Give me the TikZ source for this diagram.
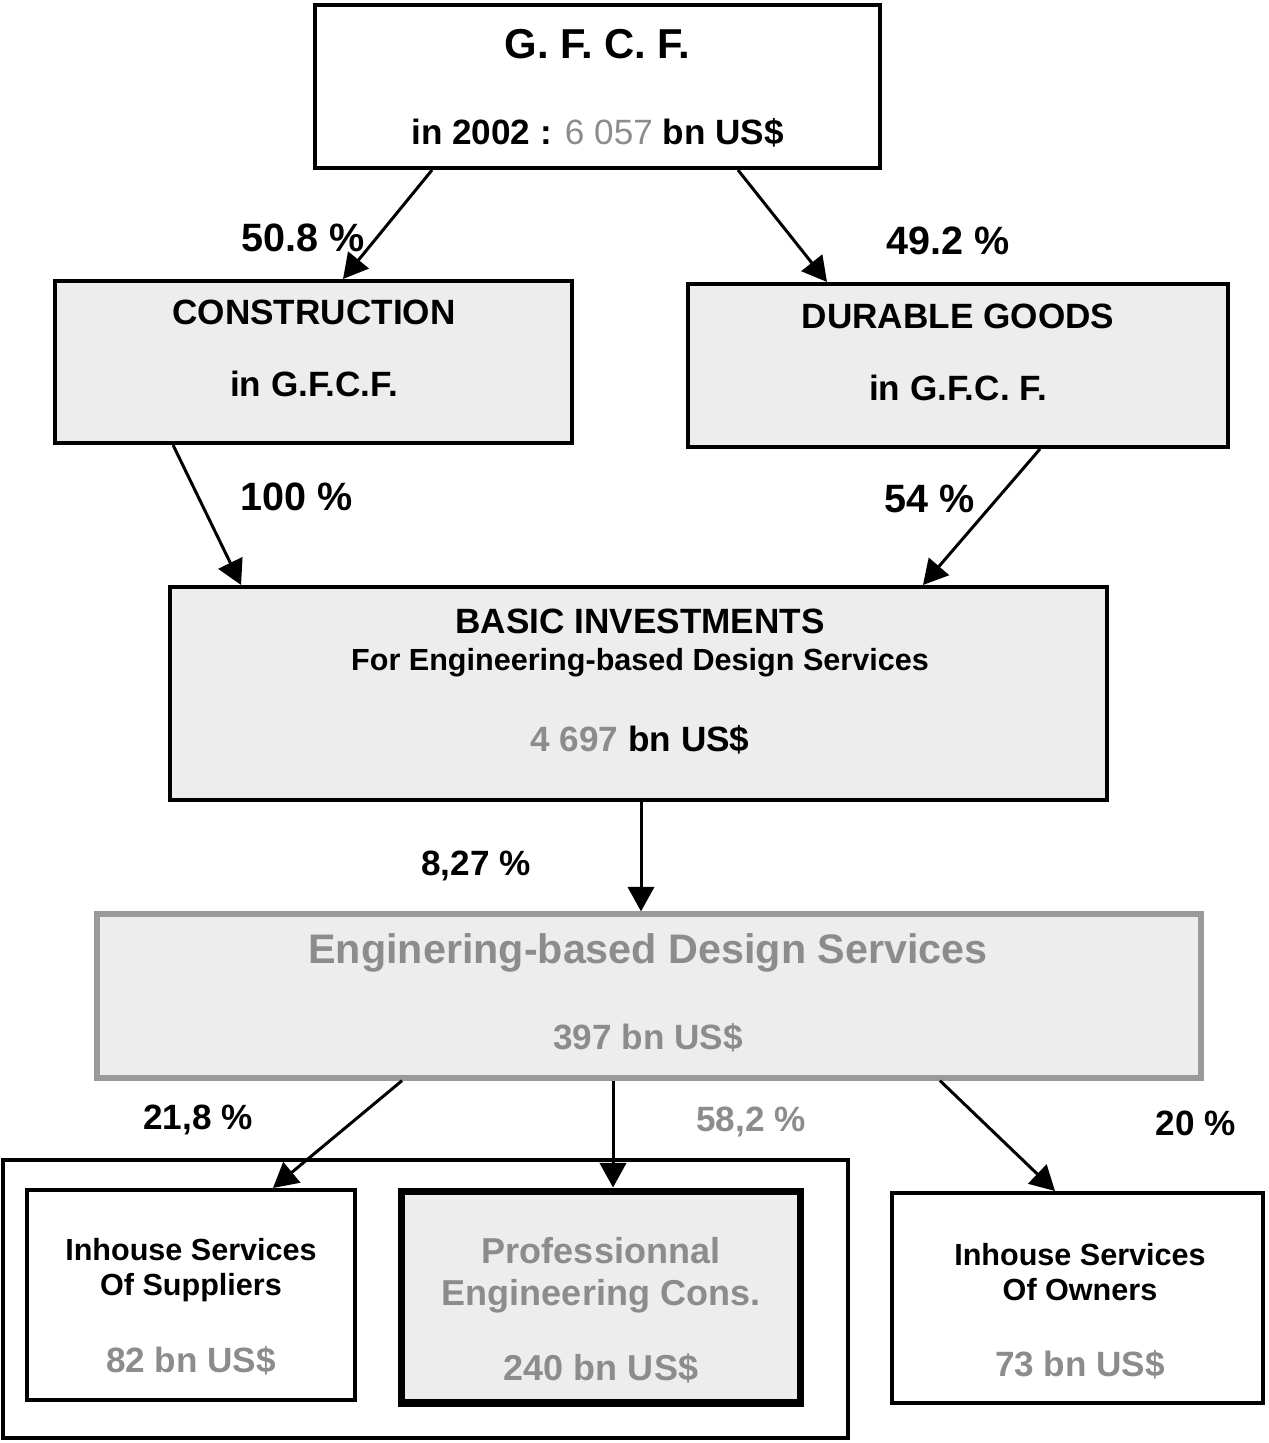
\documentclass[tikz,border=0pt]{standalone}
\usepackage{fontspec}
\setmainfont{Liberation Sans}
\usetikzlibrary{arrows.meta}

\definecolor{boxgray}{HTML}{EDEDED}
\definecolor{txtgray}{HTML}{8C8C8C}
\definecolor{edgegray}{HTML}{9A9A9A}
\newcommand{\midsize}{\fontsize{17.4}{20}\selectfont}

\begin{document}
\begin{tikzpicture}[x=0.02cm, y=-0.02cm]
    \useasboundingbox (0,0) rectangle (1268,1443);

    \begin{scope}[every node/.style={rectangle,draw,line width=2.3pt}]
        \node[minimum width=11.3cm, minimum height=3.26cm] (gfcf) at (597.5,86.5) {};
        \node[fill=boxgray, minimum width=10.34cm, minimum height=3.24cm] (cons) at (313.5,362) {};
        \node[fill=boxgray, minimum width=10.8cm, minimum height=3.26cm] (dur) at (958,365.5) {};
        \node[fill=boxgray, minimum width=18.74cm, minimum height=4.26cm] (basic) at (638.5,693.5) {};
        \node[fill=boxgray, draw=edgegray, line width=3pt, minimum width=22.08cm, minimum height=3.28cm] (eds) at (649,996) {};
        \node[minimum width=16.9cm, minimum height=5.56cm] (group) at (425.5,1299) {};
        \node[minimum width=6.56cm, minimum height=4.2cm] (sup) at (191,1295) {};
        \node[fill=boxgray, line width=4pt, minimum width=8cm, minimum height=4.24cm] (prof) at (601,1297) {};
        \node[minimum width=7.42cm, minimum height=4.2cm] (own) at (1077.5,1298) {};
    \end{scope}

    \begin{scope}[every node/.style={anchor=north,inner sep=0pt,align=center,
                  font=\fontsize{20}{20}\selectfont\bfseries}]
        \node (gfcf-t) at (597.5,29) {{\fontsize{23.8}{20}\selectfont G. F. C. F.}\\[29pt]
            in 2002 : {\mdseries\color{txtgray}6 057} bn US\$};
        \node (cons-t) at (314,300) {CONSTRUCTION\\[21pt]in G.F.C.F.};
        \node (dur-t) at (958,304) {DURABLE GOODS\\[21pt]in G.F.C. F.};
        \node (basic-t) at (640,609) {BASIC INVESTMENTS\\[1pt]
            {\midsize For Engineering-based Design Services}\\[26pt]
            {\color{txtgray}4 697} bn US\$};
        \node[text=txtgray] (eds-t) at (648,933) {{\fontsize{23.5}{20}\selectfont Enginering-based Design Services}\\[29pt]
            397 bn US\$};
        \node (sup-t) at (191,1238) {{\midsize Inhouse Services}\\{\midsize Of Suppliers}\\[24pt]
            {\color{txtgray}82 bn US\$}};
        \node[text=txtgray, font=\fontsize{20.5}{20}\selectfont\bfseries] (prof-t) at (601,1237) {Professionnal\\[4pt]
            Engineering Cons.\\[22.5pt]240 bn US\$};
        \node (own-t) at (1080,1243) {{\midsize Inhouse Services}\\{\midsize Of Owners}\\[23pt]
            {\color{txtgray}73 bn US\$}};
    \end{scope}

    \begin{scope}[every node/.style={anchor=base,inner sep=0pt,
                  font=\fontsize{22.5}{24}\selectfont\bfseries}]
        \node (lab-cons) at (303,251) {50.8 \%};
        \node (lab-dur) at (948,254) {49.2 \%};
        \node (lab-cb) at (297,510) {100 \%};
        \node (lab-db) at (930,512) {54 \%};
        \node[font=\fontsize{20}{24}\selectfont\bfseries] (lab-be) at (476,875) {8,27 \%};
        \node[font=\fontsize{20}{24}\selectfont\bfseries] (lab-sup) at (198,1129) {21,8 \%};
        \node[font=\fontsize{20}{24}\selectfont\bfseries, text=txtgray] (lab-prof) at (751,1131) {58,2 \%};
        \node[font=\fontsize{20}{24}\selectfont\bfseries] (lab-own) at (1196,1135) {20 \%};
    \end{scope}

    \begin{scope}[>={Triangle[length=14pt,width=15pt]},
                  every edge/.style={draw=black,line width=1.7pt}]
        \path [->] ([xshift=-3.31cm]gfcf.south) edge ([xshift=0.59cm]cons.north);
        \path [->] ([xshift=2.81cm]gfcf.south) edge ([xshift=-2.62cm]dur.north);
        \path [->] ([xshift=-2.81cm]cons.south) edge ([xshift=-7.95cm]basic.north);
        \path [->] ([xshift=1.64cm]dur.south) edge ([xshift=5.69cm]basic.north);
        \path [->] ([xshift=0.05cm]basic.south) edge ([xshift=0.05cm]basic.south |- eds.north);
        \path [->] ([xshift=-4.94cm]eds.south) edge ([xshift=1.64cm]sup.north);
        \path [->] ([xshift=-0.72cm]eds.south) edge ([xshift=-0.72cm]eds.south |- prof.north);
        \path [->] ([xshift=5.82cm]eds.south) edge ([xshift=-0.45cm]own.north);
    \end{scope}
\end{tikzpicture}
\end{document}
